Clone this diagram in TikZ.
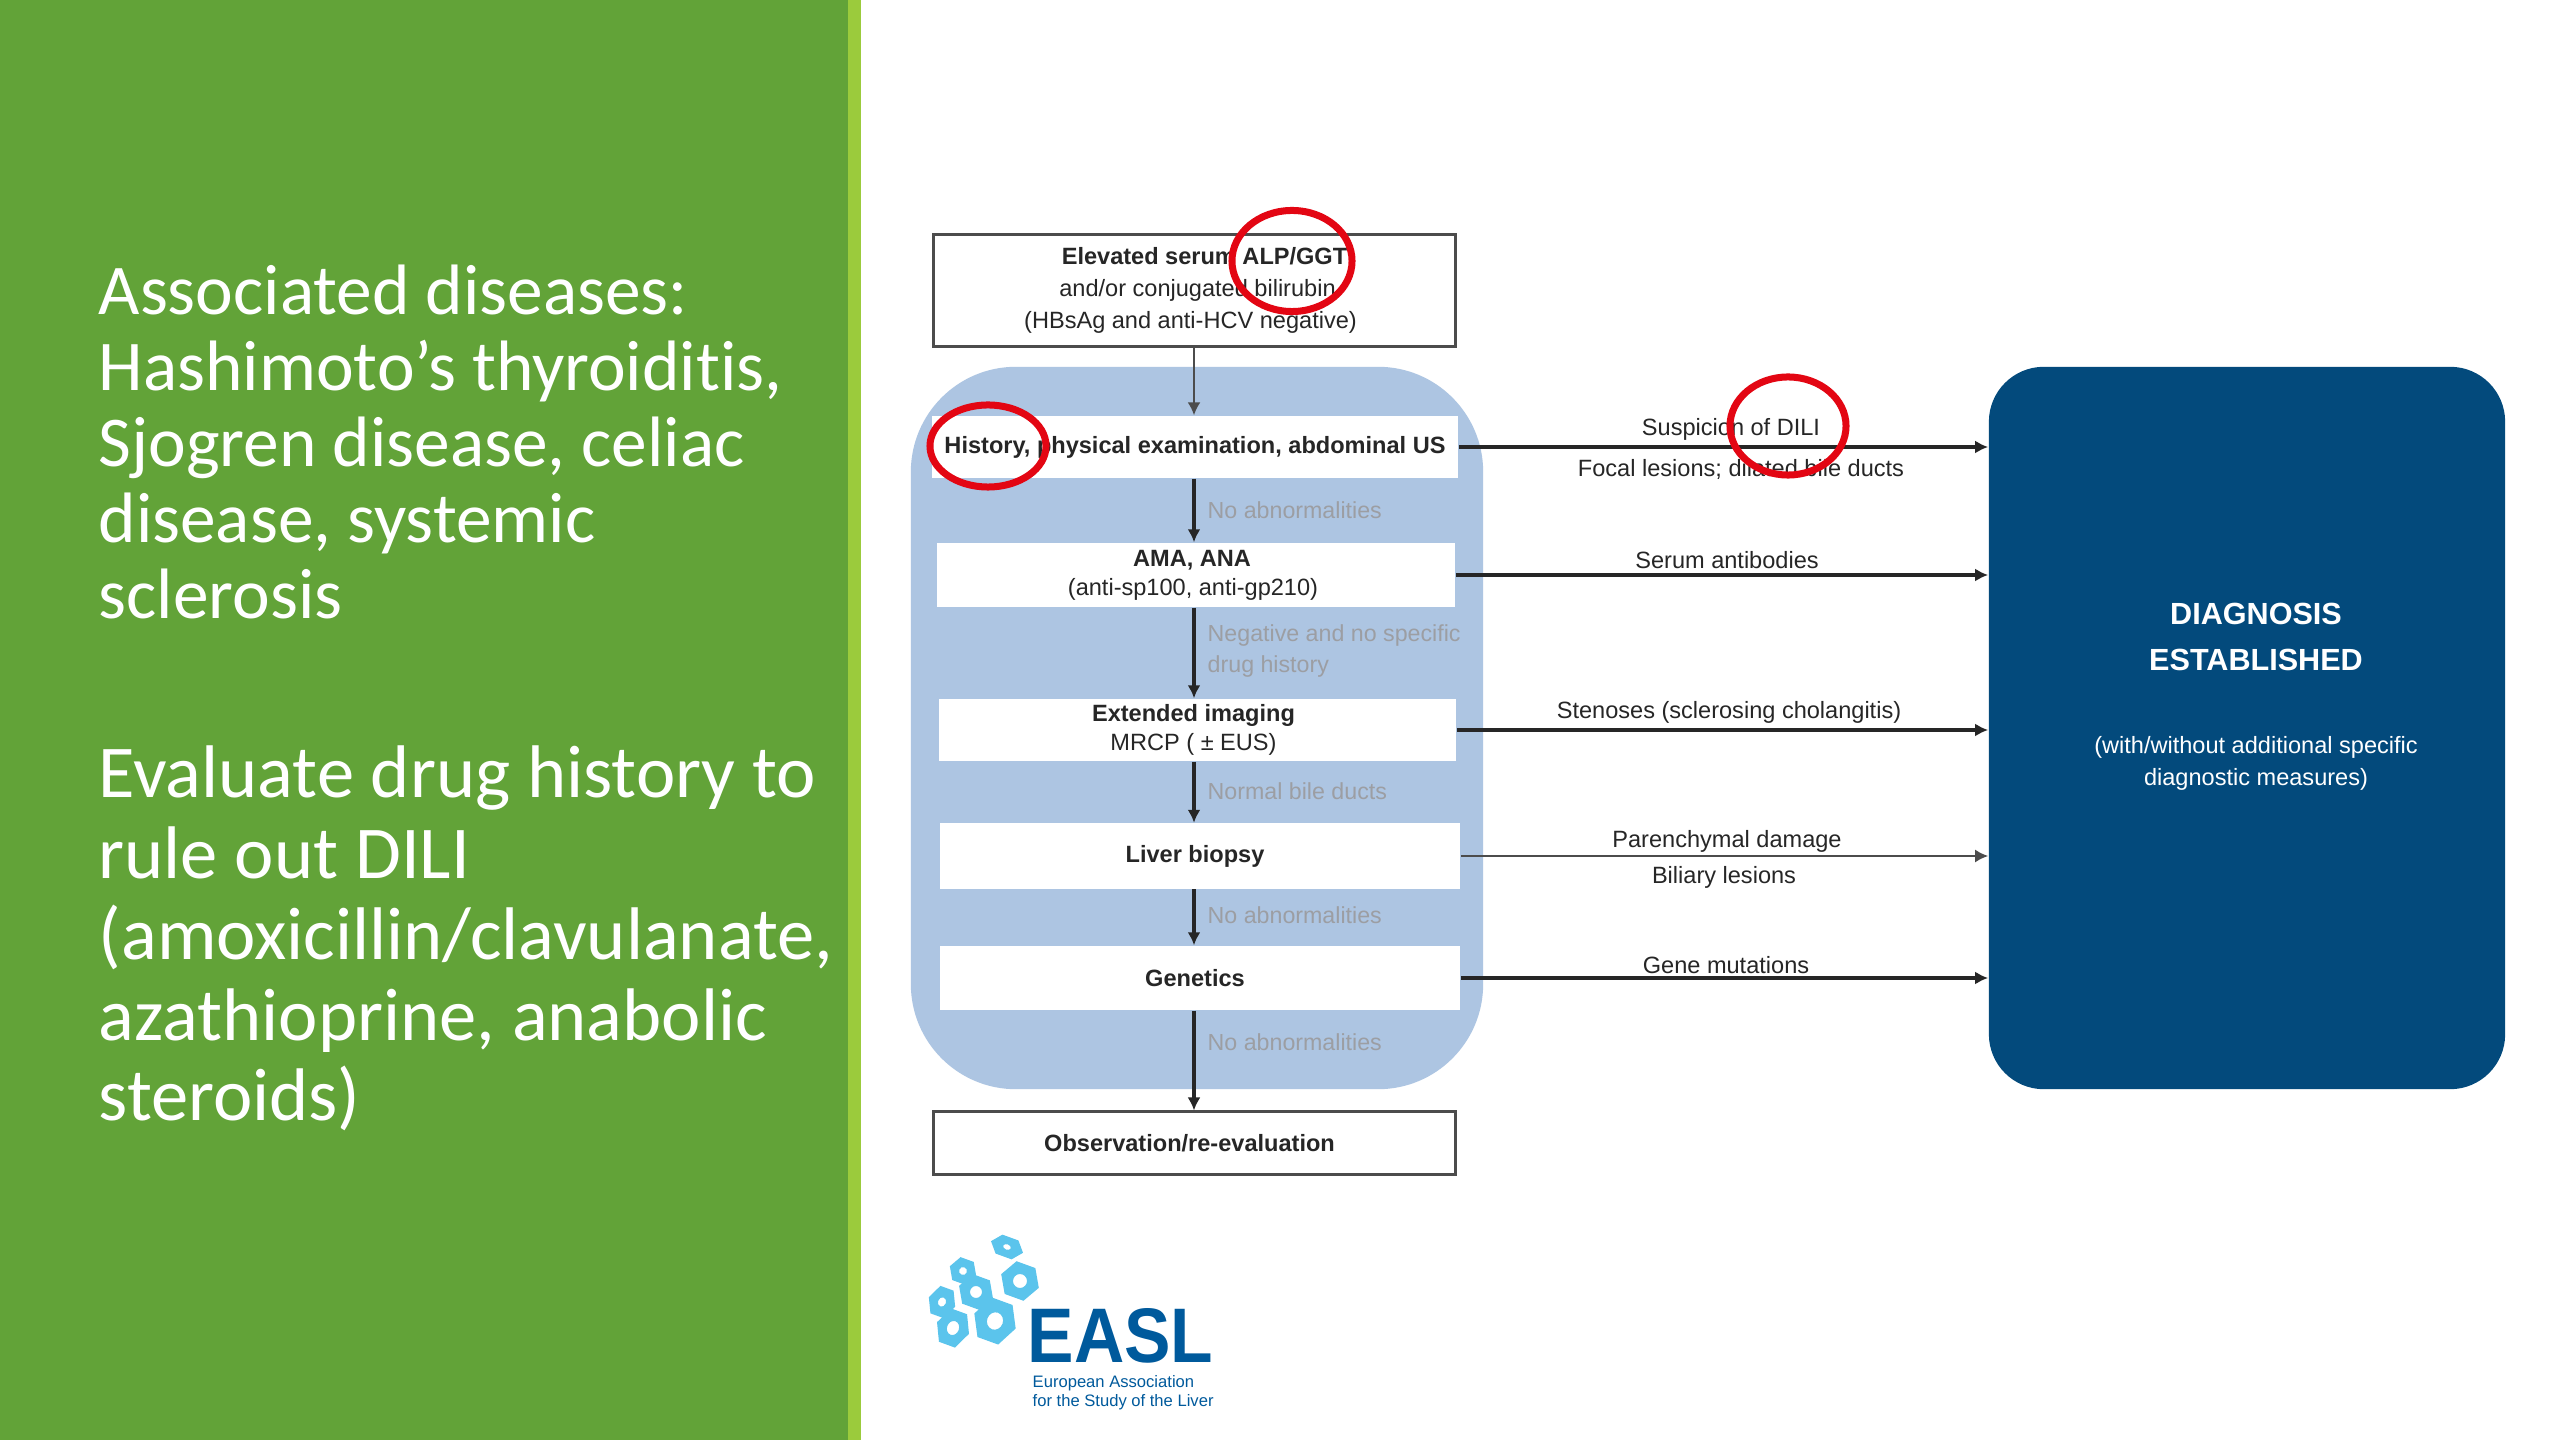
\documentclass[tikz,border=0pt]{standalone}
\usepackage{fontspec}
\setmainfont{Liberation Sans}
\newfontfamily\slidefont[Ligatures=NoCommon]{Carlito}
\usepackage{tikz}
\usetikzlibrary{positioning,arrows.meta,shapes.geometric}
\definecolor{slidegreen}{HTML}{62A338}
\definecolor{stripgreen}{HTML}{9BCB3C}
\definecolor{panelblue}{HTML}{ADC5E2}
\definecolor{diagblue}{HTML}{034A7C}
\definecolor{ringred}{HTML}{E30613}
\definecolor{hexblue}{HTML}{5BC4EC}
\definecolor{easlblue}{HTML}{005A9C}
\definecolor{stepgrey}{HTML}{9C9EA3}
\definecolor{inktext}{HTML}{262626}

\begin{document}
\begin{tikzpicture}[
  x=.01cm,y=-.01cm,
  slidetext/.style={
    anchor=north west,
    inner sep=0pt,
    align=left,
    text=white,
    font=\slidefont\fontsize{20.3}{21.6}\selectfont
  },
  outerbox/.style={
    draw=black!70,
    fill=white,
    line width=.03cm,
    align=center,
    inner sep=0pt,
    text=inktext,
    font=\fontsize{6.7}{9.1}\selectfont
  },
  stepbox/.style={
    fill=white,
    align=center,
    inner sep=0pt,
    text=inktext,
    font=\fontsize{6.7}{8.3}\selectfont
  },
  steplabel/.style={
    anchor=west,
    inner sep=0pt,
    align=left,
    text=stepgrey,
    font=\fontsize{6.6}{8.6}\selectfont
  },
  findlabel/.style={
    inner sep=0pt,
    text=inktext,
    font=\fontsize{6.7}{9}\selectfont
  },
  edge/.style={draw=black!85,line width=.035cm,-{Latex[length=.13cm,width=.13cm]}},
  thinedge/.style={draw=black!70,line width=.02cm,-{Latex[length=.13cm,width=.13cm]}},
  ring/.style={ellipse,draw=ringred,line width=.07cm,inner sep=0pt}
]
  \useasboundingbox (0,0) rectangle (2560,1440);
  \fill[white] (0,0) rectangle (2560,1440);
  \fill[slidegreen] (0,0) rectangle (848,1440);
  \fill[stripgreen] (848,0) rectangle (861,1440);

  \node[slidetext] (assoc) at (98,264) {Associated diseases:\\Hashimoto’s thyroiditis,\\Sjogren disease, celiac\\disease, systemic\\sclerosis};
  \node[slidetext,font=\slidefont\fontsize{21.2}{23}\selectfont] (drug) at (98,745) {Evaluate drug history to\\rule out DILI\\(amoxicillin/clavulanate,\\azathioprine, anabolic\\steroids)};

  \node[fill=panelblue,rounded corners=1.05cm,minimum width=5.72cm,minimum height=7.22cm] (panel) at (1197,728) {};
  \node[fill=diagblue,rounded corners=.55cm,minimum width=5.16cm,minimum height=7.22cm] (diag) at (2247,728) {};

  \node[outerbox,minimum width=5.21cm,minimum height=1.12cm] (elev) at (1194.5,290.5) {\hspace*{.2cm}\textbf{Elevated serum ALP/GGT}\\\hspace*{.06cm}and/or conjugated bilirubin\\(HBsAg and anti-HCV negative)\hspace*{.08cm}};
  \node[stepbox,minimum width=5.26cm,minimum height=.62cm] (hist) at (1195,447) {\textbf{History, physical examination, abdominal US}};
  \node[stepbox,minimum width=5.18cm,minimum height=.64cm] (ama) at (1196,575) {\textbf{AMA, ANA}\hspace*{.08cm}\\(anti-sp100, anti-gp210)\hspace*{.06cm}};
  \node[stepbox,minimum width=5.17cm,minimum height=.62cm] (img) at (1197.5,730) {\textbf{Extended imaging}\hspace*{.08cm}\\MRCP ( ± EUS)\hspace*{.08cm}};
  \node[stepbox,minimum width=5.2cm,minimum height=.65cm] (liver) at (1200,856) {\textbf{Liver biopsy}\hspace*{.1cm}};
  \node[stepbox,minimum width=5.2cm,minimum height=.64cm] (gene) at (1200,978) {\textbf{Genetics}\hspace*{.1cm}};
  \node[outerbox,minimum width=5.21cm,minimum height=.62cm] (obs) at (1194.5,1143) {\textbf{Observation/re-evaluation}\hspace*{.1cm}};

  \coordinate (axis) at (1194,0);
  \draw[thinedge] (elev.south -| axis) -- (hist.north -| axis);
  \draw[edge] (hist.south -| axis) -- (ama.north -| axis);
  \draw[edge] (ama.south -| axis) -- (img.north -| axis);
  \draw[edge] (img.south -| axis) -- (liver.north -| axis);
  \draw[edge] (liver.south -| axis) -- (gene.north -| axis);
  \draw[edge] (gene.south -| axis) -- (obs.north -| axis);

  \node[steplabel] (noabn1) at (1207,510) {No abnormalities};
  \node[steplabel] (negdrug) at (1207,651) {Negative and no specific\\drug history};
  \node[steplabel] (normal) at (1207,791) {Normal bile ducts};
  \node[steplabel] (noabn2) at (1207,915) {No abnormalities};
  \node[steplabel] (noabn3) at (1207,1042) {No abnormalities};

  \draw[edge] (hist.east) -- (hist.east -| diag.west);
  \draw[edge] (ama.east) -- (ama.east -| diag.west);
  \draw[edge] (img.east) -- (img.east -| diag.west);
  \draw[thinedge] (liver.east) -- (liver.east -| diag.west);
  \draw[edge] (gene.east) -- (gene.east -| diag.west);

  \node[findlabel] (dili) at (1731,429) {Suspicion of DILI};
  \node[findlabel] (focal) at (1741,469) {Focal lesions; dilated bile ducts};
  \node[findlabel] (serum) at (1727,560) {Serum antibodies};
  \node[findlabel] (sten) at (1729,712) {Stenoses (sclerosing cholangitis)};
  \node[findlabel] (paren) at (1727,841) {Parenchymal damage};
  \node[findlabel] (bili) at (1724,877) {Biliary lesions};
  \node[findlabel] (muta) at (1726,965) {Gene mutations};

  \node[inner sep=0pt,align=center,text=white,font=\bfseries\fontsize{8.7}{12.9}\selectfont] (est) at (2256,637) {DIAGNOSIS\\ESTABLISHED};
  \node[inner sep=0pt,align=center,text=white,font=\fontsize{6.7}{9.1}\selectfont] (addl) at (2256,763) {(with/without additional specific\\diagnostic measures)};

  \node[ring,minimum width=1.2cm,minimum height=1.01cm] (ringalp) at (1292,261) {};
  \node[ring,minimum width=1.16cm,minimum height=.82cm] (ringhist) at (988,446) {};
  \node[ring,minimum width=1.16cm,minimum height=.98cm] (ringdili) at (1788,426) {};

  % logo
  \foreach \hx/\hy/\hr/\hq/\hh in {1007/1247/17/.68/4,963/1271/14/1/4,942/1302/14/1.2/4,976/1292/18/1/6,1020/1281/20/1/7,953/1328/17/1.2/6,995/1321/22/1.1/8}{
    \fill[hexblue,even odd rule,shift={(\hx,\hy)},rotate=-20,yscale=\hq]
      (\hr,0) -- (.5*\hr,.87*\hr) -- (-.5*\hr,.87*\hr) -- (-\hr,0) -- (-.5*\hr,-.87*\hr) -- (.5*\hr,-.87*\hr) -- cycle
      (0,0) circle[radius=\hh];
  }
  \node[anchor=west,inner sep=0pt,text=easlblue,transform shape,xscale=.9,font=\bfseries\fontsize{22}{24}\selectfont] (easl) at (1027,1336) {EASL};
  \node[anchor=north west,inner sep=0pt,align=left,text=easlblue,font=\fontsize{4.72}{5.4}\selectfont] (easlsub) at (1032,1375) {European Association\\for the Study of the Liver};
\end{tikzpicture}
\end{document}
